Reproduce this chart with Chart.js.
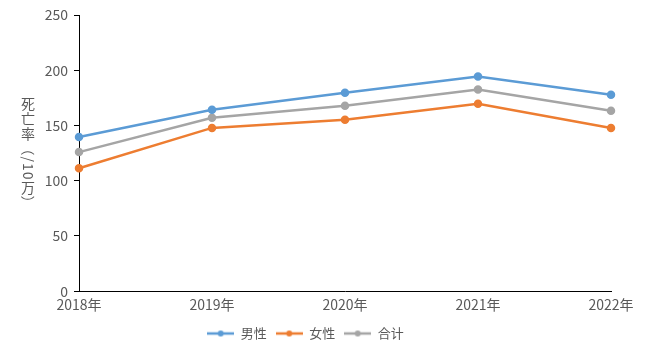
<!DOCTYPE html>
<html>
<head>
<meta charset="utf-8">
<script src="https://cdn.jsdelivr.net/npm/chart.js@4"></script>
<style>
  body { margin: 0; background: #fff; }
  #wrap { width: 650px; height: 353px; }
</style>
</head>
<body>
<div id="wrap"><canvas id="myChart" width="650" height="353"></canvas></div>
<script>
const years = ['2018年', '2019年', '2020年', '2021年', '2022年'];
const male = [139.6, 164.2, 179.7, 194.3, 177.9];
const female = [111.3, 147.8, 155.1, 169.7, 147.8];
const total = [125.9, 156.9, 167.9, 182.5, 163.3];
const yTitle = '死亡率（/10万）';

const FONT = '"Noto Sans CJK JP", "Noto Sans", sans-serif';
const TEXT = '#595959';

// legend marker: line with a dot in the middle
function marker(color) {
  const c = document.createElement('canvas');
  c.width = 27; c.height = 10;
  const g = c.getContext('2d');
  g.strokeStyle = color; g.lineWidth = 2.5;
  g.beginPath(); g.moveTo(0, 5); g.lineTo(27, 5); g.stroke();
  g.fillStyle = color;
  g.beginPath(); g.arc(13.5, 5, 3, 0, Math.PI * 2); g.fill();
  return c;
}

// vertical y-axis title, ideographs upright, the rest turned
const verticalTitle = {
  id: 'verticalTitle',
  afterDraw(chart) {
    const ctx = chart.ctx;
    ctx.save();
    ctx.font = '14px ' + FONT;
    ctx.fillStyle = TEXT;
    ctx.textAlign = 'center';
    ctx.textBaseline = 'middle';
    let y = 96;
    const x = 28;
    for (const ch of yTitle) {
      const cjk = /[\u4e00-\u9fff]/.test(ch);
      const w = cjk ? 15 : ctx.measureText(ch).width + 1;
      const cy = y + w / 2;
      if (cjk) {
        ctx.fillText(ch, x, cy);
      } else {
        ctx.save();
        ctx.translate(x, cy);
        ctx.rotate(Math.PI / 2);
        ctx.fillText(ch, 0, 0);
        ctx.restore();
      }
      y += w;
    }
    ctx.restore();
  }
};

function series(label, data, color) {
  return {
    label: label,
    data: data,
    borderColor: color,
    backgroundColor: color,
    borderWidth: 2.5,
    pointRadius: 3,
    pointHoverRadius: 3,
    pointStyle: 'circle',
    tension: 0
  };
}

const ctx = document.getElementById('myChart').getContext('2d');
new Chart(ctx, {
  type: 'line',
  data: {
    labels: years,
    datasets: [
      series('男性', male, '#5B9BD5'),
      series('女性', female, '#ED7D31'),
      series('合计', total, '#A5A5A5')
    ]
  },
  options: {
    responsive: false,
    animation: false,
    layout: { padding: { top: 15, right: 39, left: 0, bottom: 3 } },
    plugins: {
      tooltip: { enabled: false },
      legend: {
        position: 'bottom',
        labels: {
          color: TEXT,
          font: { family: FONT, size: 13 },
          usePointStyle: true,
          pointStyleWidth: 27,
          padding: 9,
          generateLabels(chart) {
            return chart.data.datasets.map((ds, i) => ({
              text: ds.label,
              pointStyle: marker(ds.borderColor),
              fontColor: TEXT,
              strokeStyle: ds.borderColor,
              fillStyle: ds.borderColor,
              lineWidth: 0,
              datasetIndex: i
            }));
          }
        }
      }
    },
    scales: {
      x: {
        offset: false,
        grid: { display: false, drawTicks: false },
        border: { color: '#000', width: 1 },
        ticks: { color: TEXT, font: { family: FONT, size: 14 }, padding: 5, maxRotation: 0 }
      },
      y: {
        min: 0, max: 250,
        ticks: { stepSize: 50, color: TEXT, font: { family: FONT, size: 14 }, padding: 6 },
        grid: { drawOnChartArea: false, drawTicks: true, tickLength: 5, color: '#000' },
        border: { color: '#000', width: 1 },
        afterFit(scale) { scale.width = 79; }
      }
    }
  },
  plugins: [verticalTitle]
});
</script>
</body>
</html>
